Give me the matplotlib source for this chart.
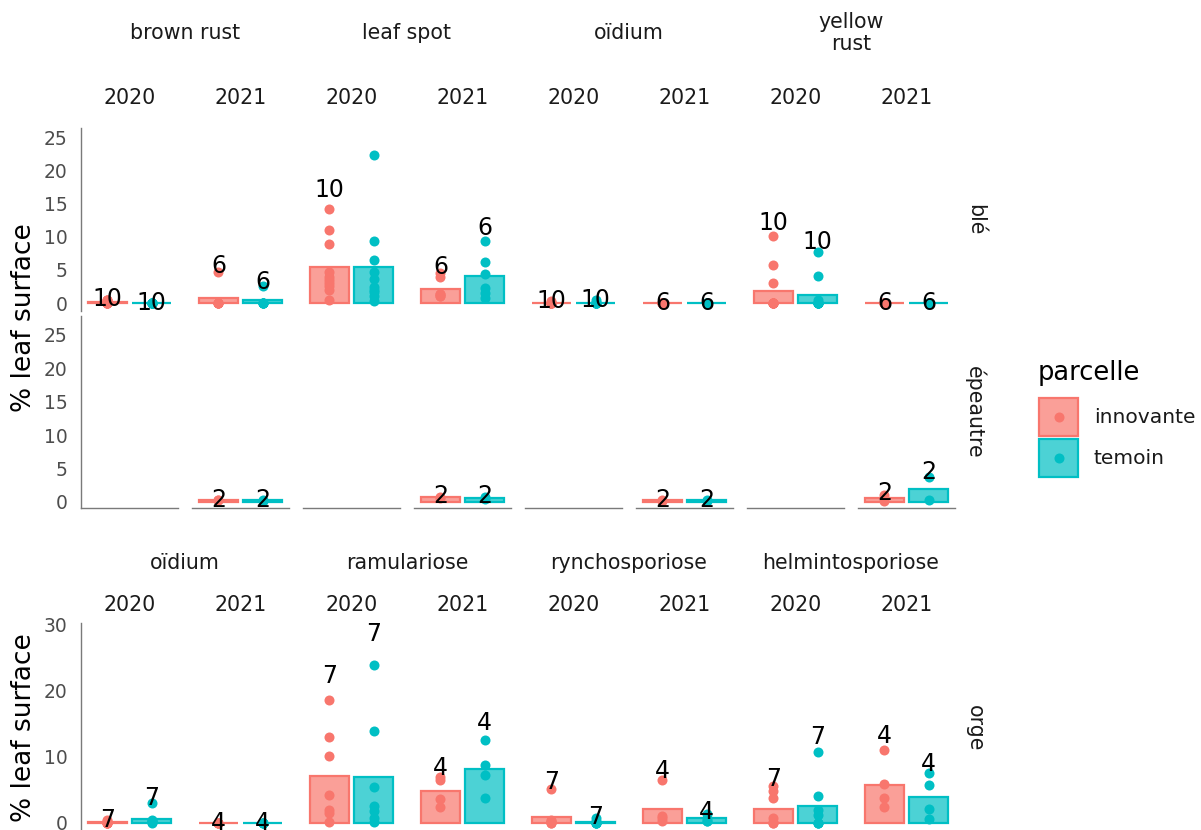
#!/usr/bin/env python3
"""Disease severity (% leaf surface) per crop, disease, year and parcelle."""
import matplotlib

matplotlib.use("Agg")
import matplotlib.pyplot as plt
import numpy as np
from matplotlib.colors import to_rgba
from matplotlib.patches import Rectangle

W, H = 1201, 830

PARCELLES = ["innovante", "temoin"]
COLORS = ["#F8766D", "#00BFC4"]
YEARS = ["2020", "2021"]
TOP_DISEASES = ["brown rust", "leaf spot", "oïdium", "yellow\nrust"]
BOTTOM_DISEASES = ["oïdium", "ramulariose", "rynchosporiose", "helmintosporiose"]

# one list of plot values per disease x year panel (disease-major, then year)
BLE_INNOVANTE = [
    [0, 0, 0, 0, 0, 0, 0, 0.5, 0.5, 0.5],
    [0, 0, 0, 0, 0, 4.7],
    [14.2, 11.0, 8.9, 4.7, 4.0, 3.5, 3.0, 2.5, 2.0, 0.5],
    [4.5, 4.0, 1.3, 1.3, 1.0, 1.0],
    [0, 0, 0, 0, 0, 0, 0, 0, 0, 0.3],
    [0, 0, 0, 0, 0, 0],
    [10.1, 5.7, 3.0, 0, 0, 0, 0, 0, 0, 0],
    [0, 0, 0, 0, 0, 0],
]
BLE_TEMOIN = [
    [0, 0, 0, 0, 0, 0, 0, 0, 0, 0],
    [0, 0, 0, 0, 0, 2.6],
    [22.4, 9.4, 6.5, 4.7, 3.6, 2.4, 2.0, 1.7, 1.0, 0.3],
    [9.4, 6.2, 4.4, 2.2, 1.5, 0.8],
    [0, 0, 0, 0, 0, 0, 0, 0, 0, 0.4],
    [0, 0, 0, 0, 0, 0],
    [7.7, 4.1, 0.5, 0, 0, 0, 0, 0, 0, 0],
    [0, 0, 0, 0, 0, 0],
]
EPEAUTRE_INNOVANTE = [[], [0.25, 0.25], [], [0.6, 0.8], [], [0.2, 0.3], [], [0.1, 1.1]]
EPEAUTRE_TEMOIN = [[], [0.2, 0.25], [], [0.5, 0.8], [], [0.2, 0.3], [], [0.3, 3.7]]
ORGE_INNOVANTE = [
    [0.4, 0.3, 0, 0, 0, 0, 0],
    [0, 0, 0, 0],
    [18.6, 13.1, 10.2, 4.3, 2.0, 1.5, 0.2],
    [7.0, 6.5, 3.6, 2.4],
    [5.2, 0.4, 0.3, 0.2, 0.2, 0, 0],
    [6.5, 1.0, 0.8, 0.3],
    [5.6, 4.8, 3.8, 0.8, 0.2, 0, 0],
    [11.0, 5.9, 3.8, 2.4],
]
ORGE_TEMOIN = [
    [3.1, 0.4, 0.3, 0.2, 0.1, 0.1, 0],
    [0, 0, 0, 0],
    [23.9, 14.0, 5.5, 2.5, 1.8, 0.8, 0.2],
    [12.6, 8.8, 7.3, 3.8],
    [0.8, 0.3, 0.2, 0, 0, 0, 0],
    [1.4, 0.8, 0.3, 0.3],
    [10.8, 4.1, 2.0, 1.2, 0, 0, 0],
    [7.5, 5.7, 2.1, 0.6],
]

AXIS_GREY = "#7a7a7a"
TICK_GREY = "#4D4D4D"
STRIP_COL = "#1A1A1A"

fig = plt.figure(figsize=(W / 100, H / 100), dpi=100)
fig.patch.set_facecolor("white")


def px_axes(x0, y0, x1, y1):
    return fig.add_axes([x0 / W, 1 - y1 / H, (x1 - x0) / W, (y1 - y0) / H])


def ftext(x, y, s, **kw):
    fig.text(x / W, 1 - y / H, s, **kw)


COL_LEFT = [81 + 111 * k for k in range(8)]
COL_W = 97


def draw_row(y0, y1, ylim, yticks, innov, temoin, bottom_line):
    for k, left in enumerate(COL_LEFT):
        ax = px_axes(left, y0, left + COL_W, y1)
        ax.set_xlim(-0.6, 1.6)
        ax.set_ylim(*ylim)
        ax.set_xticks([])
        for s in ax.spines.values():
            s.set_visible(False)
        if bottom_line:
            ax.spines["bottom"].set_visible(True)
            ax.spines["bottom"].set_color(AXIS_GREY)
            ax.spines["bottom"].set_linewidth(1.0)
        if k == 0:
            ax.spines["left"].set_visible(True)
            ax.spines["left"].set_color(AXIS_GREY)
            ax.spines["left"].set_linewidth(1.0)
            ax.set_yticks(yticks)
            ax.tick_params(axis="y", length=0, pad=9.5, labelsize=13.5, labelcolor=TICK_GREY)
        else:
            ax.set_yticks([])
        ax.patch.set_alpha(0)
        for i, vals in enumerate([innov[k], temoin[k]]):
            if len(vals) == 0:
                continue
            v = np.asarray(vals, dtype=float)
            col = COLORS[i]
            ax.bar(i, v.mean(), width=0.9, facecolor=to_rgba(col, 0.7),
                   edgecolor=col, linewidth=1.6, zorder=2)
            ax.scatter(np.full(len(v), i), v, s=52, color=col, linewidths=0, zorder=3)
            ly = 1.2 * v.max()
            if ly <= ylim[1]:
                ax.text(i, ly, str(len(v)), ha="center", va="center", fontsize=17,
                        color="black", zorder=4)


# rows of panels
draw_row(128, 311, (-1.2, 26.4), [0, 5, 10, 15, 20, 25], BLE_INNOVANTE, BLE_TEMOIN, False)
draw_row(316, 508, (-0.9, 27.84), [0, 5, 10, 15, 20, 25], EPEAUTRE_INNOVANTE, EPEAUTRE_TEMOIN, True)
draw_row(623, 833, (-1.52, 30.3), [0, 10, 20, 30], ORGE_INNOVANTE, ORGE_TEMOIN, True)

# strips
for d in range(4):
    cx = (COL_LEFT[2 * d] + COL_LEFT[2 * d + 1] + COL_W) / 2
    ftext(cx, 33, TOP_DISEASES[d], ha="center", va="center", fontsize=14.8,
          color=STRIP_COL, linespacing=1.15)
    ftext(cx, 563, BOTTOM_DISEASES[d], ha="center", va="center", fontsize=14.8, color=STRIP_COL)
for k, left in enumerate(COL_LEFT):
    cx = left + COL_W / 2
    ftext(cx, 98, YEARS[k % 2], ha="center", va="center", fontsize=14.8, color=STRIP_COL)
    ftext(cx, 605, YEARS[k % 2], ha="center", va="center", fontsize=14.8, color=STRIP_COL)

for label, cy in [("blé", 220), ("épeautre", 412), ("orge", 728)]:
    ftext(975, cy, label, ha="center", va="center", rotation=-90, fontsize=14.8, color=STRIP_COL)

# y axis titles
ftext(24, 318, "% leaf surface", ha="center", va="center", rotation=90, fontsize=19, color="black")
ftext(24, 728, "% leaf surface", ha="center", va="center", rotation=90, fontsize=19, color="black")

# legend
lax = px_axes(1030, 350, 1201, 490)
lax.set_xlim(1030, 1201)
lax.set_ylim(490, 350)
lax.axis("off")
lax.text(1038, 373, "parcelle", ha="left", va="center", fontsize=18.5, color="black")
for i, name in enumerate(PARCELLES):
    top = 398 + 41 * i
    lax.add_patch(Rectangle((1039, top), 39, 38, facecolor=to_rgba(COLORS[i], 0.7),
                            edgecolor=COLORS[i], linewidth=1.6))
    lax.scatter([1058.5], [top + 19], s=52, color=COLORS[i], linewidths=0, zorder=3)
    lax.text(1094, top + 19, name, ha="left", va="center", fontsize=14.6, color=STRIP_COL)

fig.savefig("out.png", dpi=100, facecolor=fig.get_facecolor())
plt.close(fig)
